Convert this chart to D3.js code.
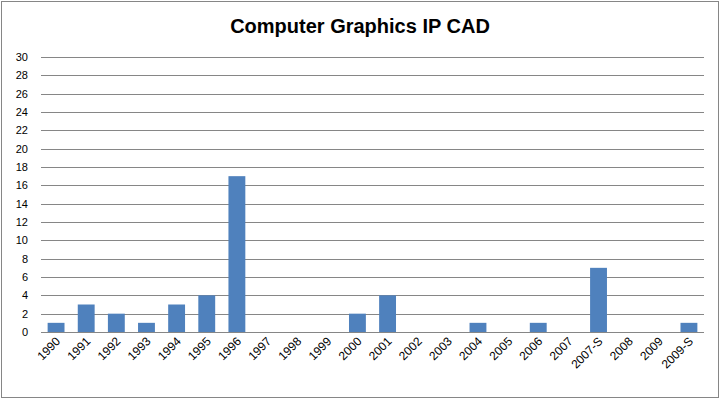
<!DOCTYPE html>
<html><head><meta charset="utf-8">
<script src="https://cdn.jsdelivr.net/npm/d3@7"></script>
<style>body{margin:0;background:#fff}svg{display:block}</style>
</head><body><svg id="c" width="721" height="400"></svg>
<script>
const categories = ["1990","1991","1992","1993","1994","1995","1996","1997","1998","1999","2000","2001","2002","2003","2004","2005","2006","2007","2007-S","2008","2009","2009-S"];
const values = [1,3,2,1,3,4,17,0,0,0,2,4,0,0,1,0,1,0,7,0,0,1];
const yTicks = d3.range(0, 31, 2);
const title = "Computer Graphics IP CAD";

const svg = d3.select("#c");
const font = "'Liberation Sans', Arial, sans-serif";
svg.append("rect").attr("x",1.5).attr("y",1.5).attr("width",717).attr("height",396)
  .attr("fill","#fff").attr("stroke","#868686").attr("stroke-width",1);

const x = d3.scaleBand().domain(categories).range([41,704]).paddingInner(0.44).paddingOuter(0.22);
const y = d3.scaleLinear().domain([0,30]).range([332,57]);

svg.append("text").attr("x",360).attr("y",33).attr("text-anchor","middle")
  .attr("font-family",font).attr("font-weight","bold").attr("font-size",20).attr("fill","#000").text(title);

const grid = svg.append("g");
grid.selectAll("line").data(yTicks).join("line")
  .attr("x1",41).attr("x2",704).attr("y1",d=>Math.round(y(d))+0.5).attr("y2",d=>Math.round(y(d))+0.5)
  .attr("stroke","#868686").attr("stroke-width",1);

svg.append("g").selectAll("text").data(yTicks).join("text")
  .attr("x",28).attr("y",d=>y(d)+4).attr("text-anchor","end")
  .attr("font-family",font).attr("font-size",11).attr("fill","#000").text(d=>d);

svg.append("g").selectAll("rect").data(values).join("rect")
  .attr("x",(d,i)=>x(categories[i])).attr("width",x.bandwidth())
  .attr("y",d=>y(d)).attr("height",d=>y(0)-y(d)).attr("fill","#4F81BD");

svg.append("g").selectAll("text").data(categories).join("text")
  .attr("transform",d=>`translate(${x(d)+x.bandwidth()/2+5},${342}) rotate(-45)`)
  .attr("text-anchor","end").attr("font-family",font).attr("font-size",12).attr("fill","#000").text(d=>d);
</script></body></html>
